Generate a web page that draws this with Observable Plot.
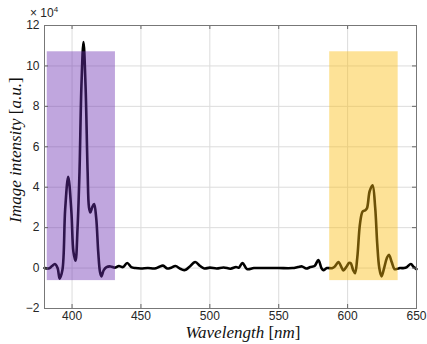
<!DOCTYPE html>
<html><head><meta charset="utf-8">
<script src="https://cdn.jsdelivr.net/npm/d3@7"></script>
<script src="https://cdn.jsdelivr.net/npm/@observablehq/plot@0.6"></script>
<style>body{margin:0;background:#fff}</style>
</head><body><div id="chart"></div>
<script>
// Wavelength (nm) and image intensity (×10^4 a.u.)
const wavelength = [380,383,385.5,387.5,389.5,391,393,395,397.2,399.5,401,402.5,404,405.4,406.8,408.3,409.8,411.3,412.3,413.3,414.6,416,417.5,419,420.3,421.3,423,425,428,431,434,437,440,443,446,450,455,460,463,466,469,472,475,479,482,485,489.4,493,496,500,505,510,515,519,521,523.7,527,532,540,550,560,564,567,570,573,576,578.8,581,582.4,585,589,591,593.3,595.5,596.9,599,601,602.2,604,605.4,607,609,610.9,612.6,614,616,618.1,620,621.5,623,624.6,626.5,628.5,630,632,634,635.5,638,641,643,645.9,648,650];
const intensity  = [0,-0.02,0.1,0.2,0,-0.52,-0.1,2.9,4.52,2.8,0.8,0.36,2.0,4.76,9.0,11.18,9.0,4.76,3.0,2.75,3.0,3.17,2.5,0.8,-0.2,-0.41,-0.1,0.05,0.08,0.02,0.1,0.05,0.25,0.05,0,-0.02,0,-0.02,0.05,0.12,-0.02,0.02,0.1,-0.05,-0.1,0.05,0.3,0.1,-0.02,0.02,-0.02,0.03,-0.03,0.05,0.02,0.25,-0.05,0,0,0,0,0.05,0.08,-0.02,0.05,0.1,0.4,0,-0.1,0,0,0.1,0.3,0.05,-0.12,0.05,0.25,0.25,-0.1,-0.25,0.5,2.2,2.8,2.85,2.95,3.8,4.1,3.0,1.2,0,-0.41,0,0.5,0.66,0.3,-0.05,-0.05,0,0,0.05,0.2,0.05,-0.05];

// Highlighted spectral bands
const bandStart  = [382, 587];
const bandEnd    = [431.5, 636.7];
const bandTop    = [10.7, 10.7];
const bandBottom = [-0.62, -0.62];
const bandColor  = ["#6d31b3", "#fabc0e"];

const xTicks = [400, 450, 500, 550, 600, 650];
const yTicks = [-2, 0, 2, 4, 6, 8, 10, 12];

const spectrum = wavelength.map((w, i) => ({w, v: intensity[i]}));
const bands = bandStart.map((s, i) => ({x1: s, x2: bandEnd[i], y1: bandBottom[i], y2: bandTop[i], c: bandColor[i]}));

const W = 427, H = 344, mL = 44, mR = 11, mT = 25, mB = 36;
const fw = W - mL - mR, fh = H - mT - mB;

const chart = Plot.plot({
  width: W, height: H,
  marginLeft: mL, marginRight: mR, marginTop: mT, marginBottom: mB,
  style: {fontFamily: "'Liberation Sans', Arial, sans-serif", fontSize: "12px", color: "#262626", background: "#fff"},
  x: {domain: [380, 650]},
  y: {domain: [-2, 12]},
  marks: [
    Plot.gridX(xTicks, {stroke: "#dcdcdc", strokeOpacity: 1}),
    Plot.gridY(yTicks, {stroke: "#dcdcdc", strokeOpacity: 1}),
    Plot.line(spectrum, {x: "w", y: "v", curve: "catmull-rom", stroke: "#000", strokeWidth: 2.6}),
    Plot.rect(bands, {x1: "x1", x2: "x2", y1: "y1", y2: "y2", fill: "c", fillOpacity: 0.43}),
    Plot.tickX(xTicks, {x: d => d, insetTop: fh - 4, stroke: "#666"}),
    Plot.tickX(xTicks, {x: d => d, insetBottom: fh - 4, stroke: "#666"}),
    Plot.tickY(yTicks, {y: d => d, insetRight: fw - 4, stroke: "#666"}),
    Plot.tickY(yTicks, {y: d => d, insetLeft: fw - 4, stroke: "#666"}),
    Plot.frame({stroke: "#777"}),
    Plot.axisX(xTicks, {tickSize: 0, tickPadding: 3, label: null}),
    Plot.axisY(yTicks, {tickSize: 0, tickPadding: 5, label: null})
  ]
});
document.getElementById("chart").append(chart);

const svg = d3.select(chart);
const serif = "'Liberation Serif', 'Times New Roman', serif";
// x-axis label
const xl = svg.append("text").attr("x", 243).attr("y", 338).attr("text-anchor", "middle")
  .attr("font-family", serif).attr("font-size", 17).attr("fill", "#111");
xl.append("tspan").attr("font-style", "italic").text("Wavelength ");
xl.append("tspan").text("[");
xl.append("tspan").attr("font-style", "italic").text("nm");
xl.append("tspan").text("]");
// y-axis label
const yl = svg.append("text").attr("transform", "translate(21,150) rotate(-90)").attr("text-anchor", "middle")
  .attr("font-family", serif).attr("font-size", 17).attr("fill", "#111");
yl.append("tspan").attr("font-style", "italic").text("Image intensity ");
yl.append("tspan").text("[");
yl.append("tspan").attr("font-style", "italic").text("a.u.");
yl.append("tspan").text("]");
// exponent label
const ex = svg.append("text").attr("x", 44).attr("y", 17)
  .attr("font-family", "'Liberation Sans', Arial, sans-serif").attr("font-size", 12).attr("fill", "#262626");
ex.append("tspan").text("× 10");
ex.append("tspan").attr("font-size", 8).attr("dy", -5).text("4");
</script>
</body></html>
